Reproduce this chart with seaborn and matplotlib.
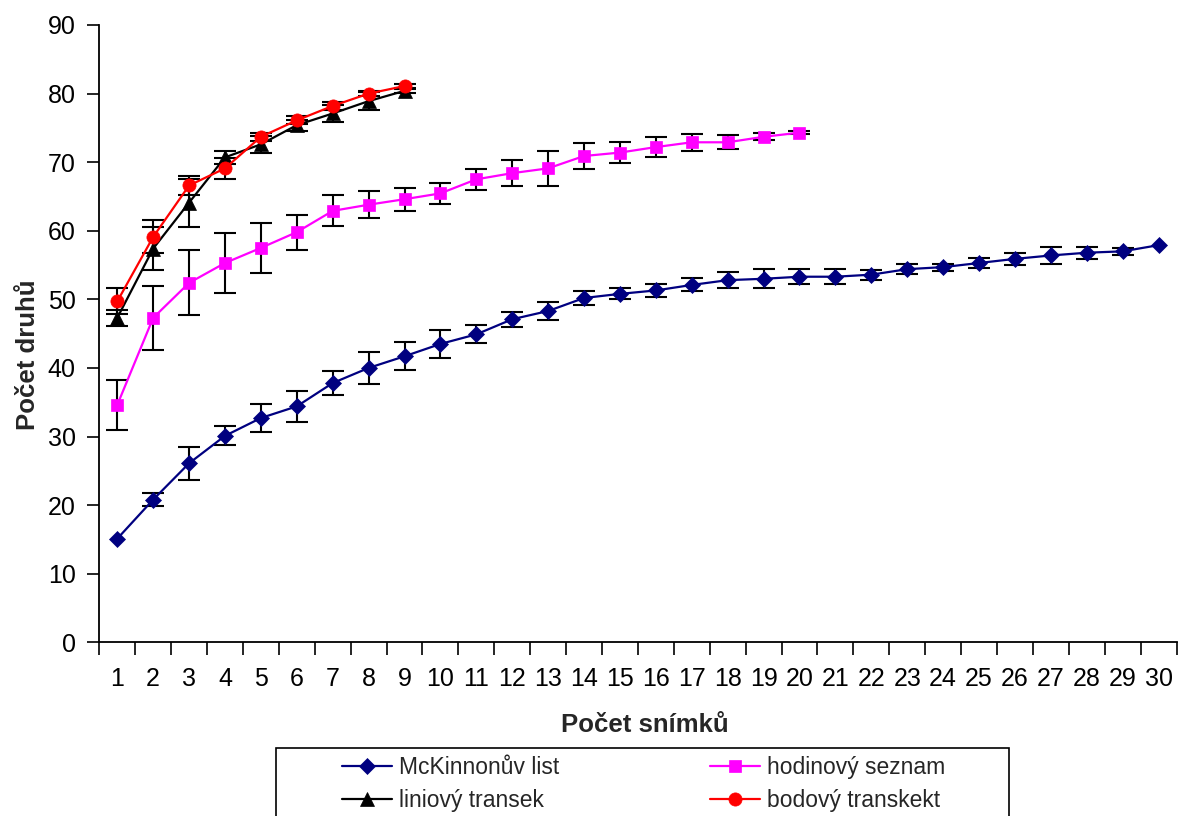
import numpy as np
import pandas as pd
import matplotlib
matplotlib.use("Agg")
import matplotlib.pyplot as plt
from matplotlib.patches import Rectangle
import seaborn as sns

# ---- data ----
mck_x = list(range(1, 31))
mck_mean = [15.1, 20.8, 26.1, 30.1, 32.7, 34.4, 37.8, 40.0, 41.7, 43.5,
            44.9, 47.1, 48.3, 50.2, 50.8, 51.3, 52.1, 52.8, 53.0, 53.3,
            53.3, 53.6, 54.4, 54.7, 55.3, 55.9, 56.4, 56.8, 57.0, 57.9]
mck_err = [0.0, 1.0, 2.4, 1.4, 2.1, 2.25, 1.7, 2.3, 2.05, 2.0,
           1.3, 1.1, 1.35, 1.0, 0.8, 0.9, 0.95, 1.15, 1.4, 1.1,
           1.1, 0.75, 0.75, 0.5, 0.8, 0.85, 1.3, 0.85, 0.5, 0.0]

hod_x = list(range(1, 21))
hod_mean = [34.6, 47.3, 52.4, 55.3, 57.5, 59.8, 62.9, 63.8, 64.6, 65.45,
            67.5, 68.4, 69.1, 70.9, 71.4, 72.2, 72.9, 72.9, 73.7, 74.3]
hod_err = [3.7, 4.65, 4.75, 4.4, 3.7, 2.55, 2.25, 2.0, 1.7, 1.55,
           1.55, 1.9, 2.55, 1.85, 1.55, 1.45, 1.25, 1.0, 0.5, 0.2]

lin_x = list(range(1, 10))
lin_mean = [47.3, 57.4, 64.1, 70.7, 72.6, 75.4, 77.1, 78.9, 80.4]
lin_err = [1.2, 3.1, 3.5, 1.0, 1.2, 0.8, 1.2, 1.3, 0.3]

bod_x = list(range(1, 10))
bod_mean = [49.7, 59.1, 66.6, 69.1, 73.7, 76.1, 78.2, 80.0, 81.1]
bod_err = [1.9, 2.4, 1.4, 1.5, 0.6, 0.6, 0.6, 0.4, 0.3]

labels = ["McKinnonův list", "hodinový seznam", "liniový transek", "bodový transkekt"]
x_ticklabels = [str(i) for i in range(1, 31)]
y_ticks = list(range(0, 91, 10))

# ---- style ----
sns.set_style("ticks")
plt.rcParams['font.family'] = ['Liberation Sans', 'DejaVu Sans']

W, H = 1178, 816
fig = plt.figure(figsize=(W / 100, H / 100), dpi=100)
ax = fig.add_axes([99.3 / W, 1 - 642.3 / H, (1176.5 - 99.3) / W, (642.3 - 25) / H])

series = [
    (mck_x, mck_mean, mck_err, labels[0], "#000080", "D", 8.3),
    (hod_x, hod_mean, hod_err, labels[1], "#FF00FF", "s", 9.0),
    (lin_x, lin_mean, lin_err, labels[2], "#000000", "^", 9.5),
    (bod_x, bod_mean, bod_err, labels[3], "#FF0000", "o", 9.5),
]

handles = {}
for i, (xs, ms, es, lab, col, mk, msz) in enumerate(series):
    z = 3 + i * 2
    ex = [a for a, e in zip(xs, es) if e > 0]
    ey = [m for m, e in zip(ms, es) if e > 0]
    ee = [e for e in es if e > 0]
    ax.errorbar(ex, ey, yerr=ee, fmt='none', ecolor='black', elinewidth=1.5,
                capsize=8, capthick=1.5, zorder=z)
    df = pd.DataFrame({"x": xs, "y": ms})
    sns.lineplot(data=df, x="x", y="y", ax=ax, color=col, marker=mk,
                 markersize=msz, markeredgecolor=col, markeredgewidth=0.5,
                 linewidth=1.6, label=lab, zorder=z + 1, legend=False)
    handles[lab] = ax.lines[-1]

ax.set_xlim(0.5, 30.5)
ax.set_ylim(0, 90)
ax.set_yticks(y_ticks)
ax.set_xticks(mck_x)
ax.set_xticklabels(x_ticklabels)
ax.set_xticks(np.arange(0.5, 31, 1.0), minor=True)
ax.tick_params(axis='x', which='major', length=0, pad=18, labelsize=18, colors='black')
ax.tick_params(axis='x', which='minor', length=9, width=1.2, color='black')
ax.tick_params(axis='y', which='major', length=9, width=1.2, pad=8, labelsize=18, colors='black')
for s in ['top', 'right']:
    ax.spines[s].set_visible(False)
for s in ['left', 'bottom']:
    ax.spines[s].set_color('black')
    ax.spines[s].set_linewidth(1.3)
ax.grid(False)

ax.set_xlabel("")
ax.set_ylabel("")
fig.text(645 / W, 1 - 725 / H, "Počet snímků", ha='center', va='center',
         fontsize=18.5, fontweight='bold')
fig.text(28 / W, 1 - 355 / H, "Počet druhů", ha='center', va='center',
         fontsize=18.5, fontweight='bold', rotation=90)

# legend frame (extends past bottom edge as in the reference)
frame = Rectangle((276 / W, -0.05), (1009 - 276) / W, 0.05 + 1 - 748 / H,
                  transform=fig.transFigure, fill=True, facecolor='white',
                  edgecolor='black', linewidth=1.2, zorder=1)
fig.add_artist(frame)

leg_kw = dict(loc='upper left', frameon=False, fontsize=16.5, handlelength=2.2,
              handletextpad=0.3, labelspacing=0.45, borderpad=0.0, borderaxespad=0.0)
top = 1 - 756 / H
leg1 = fig.legend([handles[labels[0]], handles[labels[2]]], [labels[0], labels[2]],
                  bbox_to_anchor=(342 / W, top), **leg_kw)
leg2 = fig.legend([handles[labels[1]], handles[labels[3]]], [labels[1], labels[3]],
                  bbox_to_anchor=(710 / W, top), **leg_kw)
leg1.set_zorder(5)
leg2.set_zorder(5)

fig.savefig("out.png", dpi=100)
